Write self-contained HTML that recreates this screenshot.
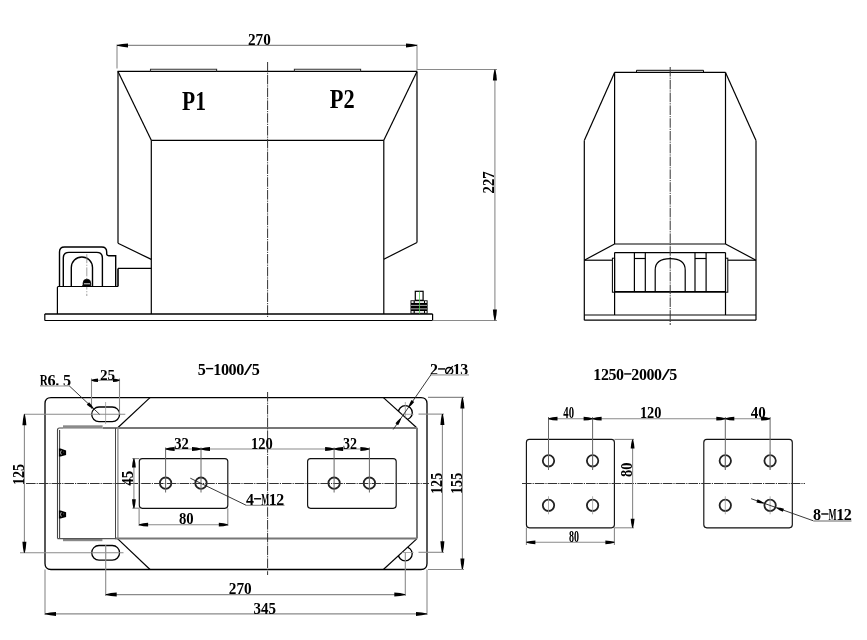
<!DOCTYPE html>
<html><head><meta charset="utf-8"><style>
html,body{margin:0;padding:0;background:#fff;width:867px;height:640px;overflow:hidden}
svg{display:block;will-change:transform}
.k{stroke:#000;stroke-width:1.2;fill:none}
.m{stroke:#333;stroke-width:1.1;fill:none}
.g{stroke:#8a8a8a;stroke-width:1.1;fill:none}
.d{stroke:#999;stroke-width:0.8;fill:none}
.c{stroke:#333;stroke-width:1;fill:none;stroke-dasharray:9.6 1.0 1.2 1.0}
.cl{stroke:#888;stroke-width:0.8;fill:none;stroke-dasharray:9 1.5 1.2 1.5}
.a{fill:#000;stroke:none}
.t{fill:#000;font-family:"Liberation Serif",serif}
</style></head><body>
<svg width="867" height="640" viewBox="0 0 867 640">
<line class="g" x1="117.00" y1="44.50" x2="117.00" y2="68.50"/>
<line class="g" x1="417.00" y1="44.50" x2="417.00" y2="70.50"/>
<line class="g" x1="117.00" y1="45.40" x2="417.00" y2="45.40"/>
<path class="a" d="M117.00,44.95 Q121.95,43.70 128.00,43.40 L128.00,47.40 Q121.95,47.10 117.00,45.85 Z"/>
<path class="a" d="M417.00,45.85 Q412.05,47.10 406.00,47.40 L406.00,43.40 Q412.05,43.70 417.00,44.95 Z"/>
<text class="t" x="248.00" y="44.80" font-size="16.52" textLength="22.80" lengthAdjust="spacingAndGlyphs" font-weight="bold">270</text>
<line class="k" x1="117.50" y1="71.40" x2="417.00" y2="71.40"/>
<path class="m" d="M150.5,71.4 V69.3 H216.6 V71.4"/>
<path class="m" d="M294.4,71.4 V69.3 H360.6 V71.4"/>
<line class="k" x1="118.00" y1="71.40" x2="118.00" y2="243.30"/>
<line class="k" x1="118.00" y1="243.30" x2="151.30" y2="259.40"/>
<line class="k" x1="417.00" y1="71.40" x2="417.00" y2="242.50"/>
<line class="k" x1="417.00" y1="242.50" x2="383.80" y2="259.20"/>
<line class="k" x1="118.00" y1="71.40" x2="151.30" y2="140.30"/>
<line class="k" x1="417.00" y1="71.40" x2="383.80" y2="140.30"/>
<line class="k" x1="151.30" y1="140.30" x2="383.80" y2="140.30"/>
<line class="k" x1="151.30" y1="140.30" x2="151.30" y2="313.90"/>
<line class="k" x1="383.80" y1="140.30" x2="383.80" y2="313.90"/>
<text class="t" x="182.00" y="109.80" font-size="27.12" textLength="23.90" lengthAdjust="spacingAndGlyphs" font-weight="bold">P1</text>
<text class="t" x="329.70" y="107.80" font-size="26.82" textLength="24.90" lengthAdjust="spacingAndGlyphs" font-weight="bold">P2</text>
<line class="c" x1="267.60" y1="62.00" x2="267.60" y2="317.00"/>
<line class="k" x1="44.80" y1="313.90" x2="432.60" y2="313.90" style="stroke-width:1.5;"/>
<line class="k" x1="44.80" y1="320.50" x2="432.60" y2="320.50"/>
<path class="k" d="M44.8,313.9 V320.5"/>
<path class="k" d="M432.6,313.9 V320.5"/>
<line class="k" x1="118.00" y1="268.40" x2="151.30" y2="268.40"/>
<line class="k" x1="118.00" y1="268.40" x2="118.00" y2="286.50" style="stroke-width:1.6;"/>
<path class="k" d="M57.4,313.9 V287.4 Q57.4,286.5 58.4,286.5 H118"/>
<path class="k" d="M59.5,286.5 V252 Q59.5,247 64.5,247 H101.7 Q106.7,247 106.7,252 V253.7 Q106.7,255.7 108.7,255.7 H115.7 V286.5" style="stroke-width:1.4;"/>
<path class="k" d="M63.3,286.5 V258 Q63.3,252.4 69,252.4 H96.8 Q102.4,252.4 102.4,258 V286.5" style="stroke-width:1.4;"/>
<path class="k" d="M71.3,286.5 V267.6 A10.6,10.6 0 0 1 92.5,267.6 V286.5" style="stroke-width:1.4;"/>
<line class="cl" x1="86.80" y1="254.20" x2="86.80" y2="296.00"/>
<path class="k" d="M83.1,286.5 V283 A3.8,3.8 0 0 1 90.7,283 V286.5 Z" style="stroke-width:0.8;fill:#000;"/>
<line class="k" x1="84.00" y1="283.80" x2="90.00" y2="283.80" style="stroke-width:0.9;stroke:#fff;"/>
<path class="k" d="M81.8,286.5 l1.3,-1.2 v1.2 z" style="stroke-width:0.6;fill:#000;"/>
<rect class="k" x="415.30" y="291.30" width="7.80" height="9.00" rx="0" style="stroke-width:1.2;"/>
<rect x="410.50" y="300.30" width="17.10" height="13.30" fill="#000"/>
<rect x="411.40" y="301.20" width="2.20" height="1.70" fill="#fff"/>
<rect x="414.80" y="301.20" width="9.20" height="1.70" fill="#fff"/>
<rect x="425.00" y="301.20" width="1.70" height="1.70" fill="#fff"/>
<rect x="411.40" y="311.10" width="2.20" height="1.70" fill="#fff"/>
<rect x="414.80" y="311.10" width="9.20" height="1.70" fill="#fff"/>
<rect x="425.00" y="311.10" width="1.70" height="1.70" fill="#fff"/>
<rect x="411.00" y="304.90" width="16.00" height="0.90" fill="#bbb"/>
<rect x="411.00" y="308.40" width="16.00" height="0.90" fill="#bbb"/>
<line class="k" x1="419.50" y1="291.50" x2="419.50" y2="313.60" style="stroke-width:0.8;stroke:#5c5;"/>
<line class="g" x1="432.60" y1="320.50" x2="497.00" y2="320.50"/>
<line class="g" x1="417.00" y1="69.50" x2="497.00" y2="69.50"/>
<line class="g" x1="494.90" y1="69.50" x2="494.90" y2="320.50"/>
<path class="a" d="M495.35,69.50 Q496.60,74.45 496.90,80.50 L492.90,80.50 Q493.20,74.45 494.45,69.50 Z"/>
<path class="a" d="M494.45,320.50 Q493.20,315.55 492.90,309.50 L496.90,309.50 Q496.60,315.55 495.35,320.50 Z"/>
<text class="t" transform="translate(494.40,193.40) rotate(-90)" x="0" y="0" font-size="17.12" textLength="22.10" lengthAdjust="spacingAndGlyphs" font-weight="bold">227</text>
<line class="k" x1="614.60" y1="72.40" x2="725.50" y2="72.40"/>
<path class="k" d="M636.5,72.4 V70.3 H703.5 V72.4" style="stroke-width:1.0;"/>
<line class="k" x1="614.60" y1="72.40" x2="584.30" y2="140.50"/>
<line class="k" x1="725.50" y1="72.40" x2="756.00" y2="140.50"/>
<line class="k" x1="584.30" y1="140.50" x2="584.30" y2="320.30"/>
<line class="k" x1="756.00" y1="140.50" x2="756.00" y2="320.30"/>
<line class="k" x1="614.60" y1="72.40" x2="614.60" y2="244.00"/>
<line class="k" x1="725.50" y1="72.40" x2="725.50" y2="244.00"/>
<line class="k" x1="614.60" y1="244.00" x2="725.50" y2="244.00"/>
<line class="k" x1="614.60" y1="244.00" x2="584.30" y2="260.20"/>
<line class="k" x1="725.50" y1="244.00" x2="756.00" y2="260.20"/>
<line class="k" x1="584.30" y1="260.20" x2="612.50" y2="260.20"/>
<line class="k" x1="727.80" y1="260.20" x2="756.00" y2="260.20"/>
<line class="k" x1="614.60" y1="252.60" x2="725.50" y2="252.60"/>
<line class="k" x1="614.60" y1="291.90" x2="725.50" y2="291.90" style="stroke-width:1.7;"/>
<line class="k" x1="614.60" y1="252.60" x2="614.60" y2="315.00"/>
<line class="k" x1="725.50" y1="252.60" x2="725.50" y2="315.00"/>
<rect class="k" x="612.40" y="258.20" width="2.20" height="34.00" rx="0" style="stroke-width:1;"/>
<rect class="k" x="725.50" y="258.20" width="2.30" height="34.00" rx="0" style="stroke-width:1;"/>
<line class="k" x1="634.40" y1="252.60" x2="634.40" y2="291.90"/>
<line class="k" x1="645.30" y1="252.60" x2="645.30" y2="291.90"/>
<line class="k" x1="634.40" y1="258.50" x2="645.30" y2="258.50"/>
<line class="k" x1="695.00" y1="252.60" x2="695.00" y2="291.90"/>
<line class="k" x1="706.10" y1="252.60" x2="706.10" y2="291.90"/>
<line class="k" x1="695.00" y1="258.50" x2="706.10" y2="258.50"/>
<path class="k" d="M655.2,291.9 V270 Q655.2,258.6 670.2,258.6 Q685.2,258.6 685.2,270 V291.9"/>
<line class="k" x1="584.30" y1="315.00" x2="756.00" y2="315.00" style="stroke-width:1.2;"/>
<line class="k" x1="584.30" y1="320.10" x2="756.00" y2="320.10"/>
<line class="c" x1="670.20" y1="67.00" x2="670.20" y2="325.00"/>
<path class="k" d="M51.0,397.6 H421.0 Q427.0,397.6 427.0,403.6 V563.5 Q427.0,569.5 421.0,569.5 H51.0 Q45.0,569.5 45.0,563.5 V403.6 Q45.0,397.6 51.0,397.6 Z" style="stroke-width:1.3;"/>
<line class="k" x1="150.00" y1="397.60" x2="117.50" y2="428.00"/>
<line class="k" x1="383.40" y1="397.60" x2="417.00" y2="428.00"/>
<line class="k" x1="117.50" y1="538.60" x2="150.00" y2="569.50"/>
<line class="k" x1="417.00" y1="538.60" x2="383.40" y2="569.50"/>
<line class="k" x1="102.60" y1="428.00" x2="417.00" y2="428.00" style="stroke-width:2;stroke:#777;"/>
<line class="k" x1="115.50" y1="538.60" x2="417.00" y2="538.60" style="stroke-width:2;stroke:#777;"/>
<line class="k" x1="115.50" y1="428.00" x2="115.50" y2="538.60" style="stroke-width:1;stroke:#444;"/>
<line class="k" x1="117.90" y1="428.00" x2="117.90" y2="538.60" style="stroke-width:1.3;stroke:#888;"/>
<line class="k" x1="417.00" y1="428.00" x2="417.00" y2="538.60" style="stroke-width:2;stroke:#777;"/>
<rect x="63.00" y="425.30" width="39.60" height="3.30" fill="#8a8a8a"/>
<rect x="63.00" y="538.90" width="39.40" height="2.30" fill="#8a8a8a"/>
<path class="k" d="M57.5,538.6 V430 Q57.5,428 59.5,428 H63" style="stroke-width:1.1;stroke:#444;"/>
<line class="k" x1="59.60" y1="430.00" x2="59.60" y2="538.60" style="stroke-width:1.1;stroke:#444;"/>
<line class="k" x1="57.50" y1="538.60" x2="116.00" y2="538.60" style="stroke-width:1.4;stroke:#555;"/>
<path d="M58.9,448.6 H60.6 L66.1,450.40000000000003 V455.1 L60.6,456.6 H58.9 Z" fill="#000"/>
<path d="M61.3,450.40000000000003 Q59.6,452.6 61.3,454.8" fill="none" stroke="#fff" stroke-width="0.7"/>
<circle cx="63.6" cy="452.0" r="0.6" fill="#555"/>
<path d="M58.9,510.4 H60.6 L66.1,512.1999999999999 V516.9 L60.6,518.4 H58.9 Z" fill="#000"/>
<path d="M61.3,512.1999999999999 Q59.6,514.4 61.3,516.6" fill="none" stroke="#fff" stroke-width="0.7"/>
<circle cx="63.6" cy="513.8" r="0.6" fill="#555"/>
<path class="k" d="M99,407.0 H112.3 A7.3,7.3 0 0 1 112.3,421.6 H99 A7.3,7.3 0 0 1 99,407.0 Z" style="stroke-width:1.3;"/>
<path class="k" d="M99,545.5 H112.3 A7.3,7.3 0 0 1 112.3,560.0999999999999 H99 A7.3,7.3 0 0 1 99,545.5 Z" style="stroke-width:1.3;"/>
<defs><clipPath id="c1"><polygon points="372.35,387.6 445,387.6 445,440 430.3,440"/></clipPath><clipPath id="c2"><polygon points="430.3,526.6 445,526.6 445,580 371.6,580"/></clipPath></defs>
<g clip-path="url(#c1)">
<circle class="k" cx="405.30" cy="412.70" r="7.0" style="stroke-width:1.3;"/>
<line class="d" x1="405.30" y1="402.00" x2="405.30" y2="425.00"/>
<line class="d" x1="396.00" y1="414.30" x2="413.60" y2="414.30"/>
</g>
<g clip-path="url(#c2)">
<circle class="k" cx="405.20" cy="553.80" r="7.0" style="stroke-width:1.3;"/>
<line class="d" x1="396.00" y1="552.50" x2="413.60" y2="552.50"/>
</g>
<rect class="k" x="139.30" y="458.60" width="88.50" height="49.70" rx="3" style="stroke-width:1.15;stroke:#111;"/>
<rect class="k" x="307.60" y="458.60" width="88.60" height="49.70" rx="3" style="stroke-width:1.15;stroke:#111;"/>
<circle class="k" cx="165.60" cy="483.20" r="5.7" style="stroke-width:1.8;stroke:#222;"/>
<circle class="k" cx="201.00" cy="483.20" r="5.7" style="stroke-width:1.8;stroke:#222;"/>
<circle class="k" cx="334.10" cy="483.20" r="5.7" style="stroke-width:1.8;stroke:#222;"/>
<circle class="k" cx="369.40" cy="483.20" r="5.7" style="stroke-width:1.8;stroke:#222;"/>
<line class="c" x1="26.00" y1="483.50" x2="429.00" y2="483.50"/>
<line class="c" x1="267.60" y1="392.00" x2="267.60" y2="575.00"/>
<line class="d" x1="105.60" y1="402.00" x2="105.60" y2="424.00"/>
<line class="g" x1="24.00" y1="414.30" x2="125.30" y2="414.30"/>
<line class="g" x1="20.00" y1="552.70" x2="123.50" y2="552.70"/>
<line class="g" x1="105.70" y1="545.00" x2="105.70" y2="596.00"/>
<line class="d" x1="105.60" y1="548.00" x2="105.60" y2="558.00"/>
<line class="g" x1="405.30" y1="552.50" x2="405.30" y2="596.00"/>
<line class="g" x1="418.50" y1="552.30" x2="444.00" y2="552.30"/>
<line class="g" x1="24.40" y1="414.30" x2="24.40" y2="552.70"/>
<path class="a" d="M24.85,414.30 Q26.10,419.25 26.40,425.30 L22.40,425.30 Q22.70,419.25 23.95,414.30 Z"/>
<path class="a" d="M23.95,552.70 Q22.70,547.75 22.40,541.70 L26.40,541.70 Q26.10,547.75 24.85,552.70 Z"/>
<text class="t" transform="translate(24.20,485.10) rotate(-90)" x="0" y="0" font-size="17.42" textLength="21.10" lengthAdjust="spacingAndGlyphs" font-weight="bold">125</text>
<line class="g" x1="91.50" y1="378.50" x2="91.50" y2="409.00"/>
<line class="g" x1="119.50" y1="378.50" x2="119.50" y2="414.00"/>
<line class="g" x1="91.50" y1="380.30" x2="119.50" y2="380.30"/>
<path class="a" d="M91.50,379.85 Q94.42,378.77 98.00,378.50 L98.00,382.10 Q94.42,381.83 91.50,380.75 Z"/>
<path class="a" d="M119.50,380.75 Q116.58,381.83 113.00,382.10 L113.00,378.50 Q116.58,378.77 119.50,379.85 Z"/>
<text class="t" x="100.00" y="379.60" font-size="15.61" textLength="15.20" lengthAdjust="spacingAndGlyphs" font-weight="bold">25</text>
<text class="t" x="39.71" y="385.60" font-size="17.12" textLength="8.14" lengthAdjust="spacingAndGlyphs" font-weight="bold">R</text>
<text class="t" x="47.46" y="385.60" font-size="17.12" textLength="8.14" lengthAdjust="spacingAndGlyphs" font-weight="bold">6</text>
<rect x="56.20" y="383.40" width="2.20" height="2.20" fill="#000"/>
<text class="t" x="62.96" y="385.60" font-size="17.12" textLength="8.14" lengthAdjust="spacingAndGlyphs" font-weight="bold">5</text>
<line class="g" x1="40.00" y1="386.00" x2="69.50" y2="386.00" style="stroke-width:1.6;stroke:#bbb;"/>
<line class="k" x1="69.20" y1="385.80" x2="99.60" y2="414.30" style="stroke-width:0.9;stroke:#222;"/>
<path class="a" d="M93.09,408.83 Q89.95,407.26 86.75,404.63 L89.07,402.14 Q91.92,405.14 93.71,408.17 Z"/>
<text class="t" x="197.81" y="374.50" font-size="17.12" textLength="8.09" lengthAdjust="spacingAndGlyphs" font-weight="bold">5</text>
<rect x="206.00" y="367.92" width="7.20" height="1.40" fill="#000"/>
<text class="t" x="213.21" y="374.50" font-size="17.12" textLength="8.09" lengthAdjust="spacingAndGlyphs" font-weight="bold">1</text>
<text class="t" x="220.91" y="374.50" font-size="17.12" textLength="8.09" lengthAdjust="spacingAndGlyphs" font-weight="bold">0</text>
<text class="t" x="228.61" y="374.50" font-size="17.12" textLength="8.09" lengthAdjust="spacingAndGlyphs" font-weight="bold">0</text>
<text class="t" x="236.31" y="374.50" font-size="17.12" textLength="8.09" lengthAdjust="spacingAndGlyphs" font-weight="bold">0</text>
<text class="t" x="244.01" y="374.50" font-size="17.12" textLength="8.09" lengthAdjust="spacingAndGlyphs" font-weight="bold">/</text>
<text class="t" x="251.71" y="374.50" font-size="17.12" textLength="8.09" lengthAdjust="spacingAndGlyphs" font-weight="bold">5</text>
<text class="t" x="430.01" y="374.70" font-size="16.82" textLength="7.96" lengthAdjust="spacingAndGlyphs" font-weight="bold">2</text>
<rect x="438.08" y="368.23" width="7.08" height="1.40" fill="#000"/>
<circle cx="449.15" cy="370.93" r="3.55" fill="none" stroke="#000" stroke-width="1.5"/>
<line x1="446.31" y1="374.66" x2="452.70" y2="366.13" stroke="#000" stroke-width="1.3"/>
<text class="t" x="452.75" y="374.70" font-size="16.82" textLength="7.96" lengthAdjust="spacingAndGlyphs" font-weight="bold">1</text>
<text class="t" x="460.33" y="374.70" font-size="16.82" textLength="7.96" lengthAdjust="spacingAndGlyphs" font-weight="bold">3</text>
<line class="g" x1="430.00" y1="374.90" x2="469.00" y2="374.90" style="stroke-width:1.6;stroke:#bbb;"/>
<line class="k" x1="431.20" y1="374.40" x2="393.20" y2="429.50" style="stroke-width:0.9;stroke:#222;"/>
<path class="a" d="M408.51,406.49 Q409.55,403.38 411.54,400.07 L414.17,401.89 Q411.79,404.92 409.25,407.00 Z"/>
<path class="a" d="M401.13,418.77 Q400.09,421.88 398.10,425.18 L395.46,423.37 Q397.85,420.33 400.38,418.26 Z"/>
<line class="g" x1="428.00" y1="397.40" x2="464.00" y2="397.40"/>
<line class="g" x1="462.40" y1="397.40" x2="462.40" y2="569.50"/>
<path class="a" d="M462.85,397.40 Q464.10,402.35 464.40,408.40 L460.40,408.40 Q460.70,402.35 461.95,397.40 Z"/>
<path class="a" d="M461.95,569.50 Q460.70,564.55 460.40,558.50 L464.40,558.50 Q464.10,564.55 462.85,569.50 Z"/>
<line class="g" x1="418.50" y1="414.10" x2="444.00" y2="414.10"/>
<line class="g" x1="442.40" y1="414.10" x2="442.40" y2="552.30"/>
<path class="a" d="M442.85,414.10 Q444.10,419.05 444.40,425.10 L440.40,425.10 Q440.70,419.05 441.95,414.10 Z"/>
<path class="a" d="M441.95,552.30 Q440.70,547.35 440.40,541.30 L444.40,541.30 Q444.10,547.35 442.85,552.30 Z"/>
<line class="g" x1="428.00" y1="569.50" x2="464.00" y2="569.50"/>
<text class="t" transform="translate(441.90,494.00) rotate(-90)" x="0" y="0" font-size="17.58" textLength="21.20" lengthAdjust="spacingAndGlyphs" font-weight="bold">125</text>
<text class="t" transform="translate(462.00,494.00) rotate(-90)" x="0" y="0" font-size="17.42" textLength="21.20" lengthAdjust="spacingAndGlyphs" font-weight="bold">155</text>
<line class="g" x1="165.60" y1="447.50" x2="165.60" y2="492.50" style="stroke-width:1.0;stroke:#666;"/>
<line class="g" x1="201.00" y1="447.50" x2="201.00" y2="492.50" style="stroke-width:1.0;stroke:#666;"/>
<line class="g" x1="334.10" y1="447.50" x2="334.10" y2="492.50" style="stroke-width:1.0;stroke:#666;"/>
<line class="g" x1="369.40" y1="447.50" x2="369.40" y2="492.50" style="stroke-width:1.0;stroke:#666;"/>
<line class="g" x1="165.60" y1="449.00" x2="369.40" y2="449.00"/>
<path class="a" d="M165.60,448.55 Q169.65,447.38 174.60,447.10 L174.60,450.90 Q169.65,450.62 165.60,449.45 Z"/>
<path class="a" d="M201.00,449.45 Q196.95,450.62 192.00,450.90 L192.00,447.10 Q196.95,447.38 201.00,448.55 Z"/>
<path class="a" d="M201.00,448.55 Q205.05,447.38 210.00,447.10 L210.00,450.90 Q205.05,450.62 201.00,449.45 Z"/>
<path class="a" d="M334.10,449.45 Q330.05,450.62 325.10,450.90 L325.10,447.10 Q330.05,447.38 334.10,448.55 Z"/>
<path class="a" d="M334.10,448.55 Q338.15,447.38 343.10,447.10 L343.10,450.90 Q338.15,450.62 334.10,449.45 Z"/>
<path class="a" d="M369.40,449.45 Q365.35,450.62 360.40,450.90 L360.40,447.10 Q365.35,447.38 369.40,448.55 Z"/>
<text class="t" x="174.30" y="448.90" font-size="16.67" textLength="14.60" lengthAdjust="spacingAndGlyphs" font-weight="bold">32</text>
<text class="t" x="251.00" y="448.90" font-size="16.52" textLength="21.80" lengthAdjust="spacingAndGlyphs" font-weight="bold">120</text>
<text class="t" x="342.90" y="448.80" font-size="16.52" textLength="14.00" lengthAdjust="spacingAndGlyphs" font-weight="bold">32</text>
<line class="g" x1="132.30" y1="458.60" x2="139.30" y2="458.60"/>
<line class="g" x1="132.30" y1="508.20" x2="139.30" y2="508.20"/>
<line class="g" x1="133.90" y1="458.60" x2="133.90" y2="508.20"/>
<path class="a" d="M134.35,458.60 Q135.52,462.65 135.80,467.60 L132.00,467.60 Q132.28,462.65 133.45,458.60 Z"/>
<path class="a" d="M133.45,508.20 Q132.28,504.15 132.00,499.20 L135.80,499.20 Q135.52,504.15 134.35,508.20 Z"/>
<text class="t" transform="translate(133.40,485.70) rotate(-90)" x="0" y="0" font-size="17.12" textLength="15.00" lengthAdjust="spacingAndGlyphs" font-weight="bold">45</text>
<line class="g" x1="139.10" y1="508.20" x2="139.10" y2="526.00"/>
<line class="g" x1="227.80" y1="508.20" x2="227.80" y2="526.00"/>
<line class="g" x1="139.10" y1="524.70" x2="227.80" y2="524.70"/>
<path class="a" d="M139.10,524.25 Q143.15,523.09 148.10,522.80 L148.10,526.60 Q143.15,526.32 139.10,525.15 Z"/>
<path class="a" d="M227.80,525.15 Q223.75,526.32 218.80,526.60 L218.80,522.80 Q223.75,523.09 227.80,524.25 Z"/>
<text class="t" x="178.90" y="524.00" font-size="16.67" textLength="14.70" lengthAdjust="spacingAndGlyphs" font-weight="bold">80</text>
<line class="k" x1="190.30" y1="478.20" x2="246.00" y2="505.20" style="stroke-width:0.9;stroke:#222;"/>
<line class="g" x1="246.00" y1="505.40" x2="284.50" y2="505.40" style="stroke-width:1.4;stroke:#999;"/>
<text class="t" x="246.01" y="504.70" font-size="17.27" textLength="7.96" lengthAdjust="spacingAndGlyphs" font-weight="bold">4</text>
<rect x="254.08" y="498.07" width="7.08" height="1.40" fill="#000"/>
<text class="t" x="261.17" y="504.70" font-size="17.27" textLength="7.96" lengthAdjust="spacingAndGlyphs" font-weight="bold">M</text>
<text class="t" x="268.75" y="504.70" font-size="17.27" textLength="7.96" lengthAdjust="spacingAndGlyphs" font-weight="bold">1</text>
<text class="t" x="276.33" y="504.70" font-size="17.27" textLength="7.96" lengthAdjust="spacingAndGlyphs" font-weight="bold">2</text>
<line class="g" x1="105.70" y1="594.60" x2="405.30" y2="594.60"/>
<path class="a" d="M105.70,594.15 Q110.65,592.90 116.70,592.60 L116.70,596.60 Q110.65,596.30 105.70,595.05 Z"/>
<path class="a" d="M405.30,595.05 Q400.35,596.30 394.30,596.60 L394.30,592.60 Q400.35,592.90 405.30,594.15 Z"/>
<line class="g" x1="45.00" y1="569.50" x2="45.00" y2="615.00"/>
<line class="g" x1="427.00" y1="569.50" x2="427.00" y2="615.00"/>
<line class="g" x1="45.00" y1="613.90" x2="427.00" y2="613.90"/>
<path class="a" d="M45.00,613.45 Q49.95,612.20 56.00,611.90 L56.00,615.90 Q49.95,615.60 45.00,614.35 Z"/>
<path class="a" d="M427.00,614.35 Q422.05,615.60 416.00,615.90 L416.00,611.90 Q422.05,612.20 427.00,613.45 Z"/>
<text class="t" x="228.80" y="593.90" font-size="17.73" textLength="22.90" lengthAdjust="spacingAndGlyphs" font-weight="bold">270</text>
<text class="t" x="253.60" y="613.90" font-size="17.42" textLength="22.50" lengthAdjust="spacingAndGlyphs" font-weight="bold">345</text>
<text class="t" x="593.31" y="379.70" font-size="16.82" textLength="7.98" lengthAdjust="spacingAndGlyphs" font-weight="bold">1</text>
<text class="t" x="600.91" y="379.70" font-size="16.82" textLength="7.98" lengthAdjust="spacingAndGlyphs" font-weight="bold">2</text>
<text class="t" x="608.51" y="379.70" font-size="16.82" textLength="7.98" lengthAdjust="spacingAndGlyphs" font-weight="bold">5</text>
<text class="t" x="616.11" y="379.70" font-size="16.82" textLength="7.98" lengthAdjust="spacingAndGlyphs" font-weight="bold">0</text>
<rect x="624.20" y="373.23" width="7.10" height="1.40" fill="#000"/>
<text class="t" x="631.31" y="379.70" font-size="16.82" textLength="7.98" lengthAdjust="spacingAndGlyphs" font-weight="bold">2</text>
<text class="t" x="638.91" y="379.70" font-size="16.82" textLength="7.98" lengthAdjust="spacingAndGlyphs" font-weight="bold">0</text>
<text class="t" x="646.51" y="379.70" font-size="16.82" textLength="7.98" lengthAdjust="spacingAndGlyphs" font-weight="bold">0</text>
<text class="t" x="654.11" y="379.70" font-size="16.82" textLength="7.98" lengthAdjust="spacingAndGlyphs" font-weight="bold">0</text>
<text class="t" x="661.71" y="379.70" font-size="16.82" textLength="7.98" lengthAdjust="spacingAndGlyphs" font-weight="bold">/</text>
<text class="t" x="669.31" y="379.70" font-size="16.82" textLength="7.98" lengthAdjust="spacingAndGlyphs" font-weight="bold">5</text>
<rect class="k" x="526.40" y="439.40" width="88.00" height="88.40" rx="3" style="stroke-width:1.15;stroke:#111;"/>
<rect class="k" x="703.80" y="439.40" width="88.50" height="88.40" rx="3" style="stroke-width:1.15;stroke:#111;"/>
<circle class="k" cx="548.50" cy="460.80" r="5.7" style="stroke-width:1.8;stroke:#222;"/>
<circle class="k" cx="548.50" cy="505.30" r="5.7" style="stroke-width:1.8;stroke:#222;"/>
<circle class="k" cx="592.60" cy="460.80" r="5.7" style="stroke-width:1.8;stroke:#222;"/>
<circle class="k" cx="592.60" cy="505.30" r="5.7" style="stroke-width:1.8;stroke:#222;"/>
<circle class="k" cx="725.30" cy="460.80" r="5.7" style="stroke-width:1.8;stroke:#222;"/>
<circle class="k" cx="725.30" cy="505.30" r="5.7" style="stroke-width:1.8;stroke:#222;"/>
<circle class="k" cx="770.10" cy="460.80" r="5.7" style="stroke-width:1.8;stroke:#222;"/>
<circle class="k" cx="770.10" cy="505.30" r="5.7" style="stroke-width:1.8;stroke:#222;"/>
<line class="c" x1="522.00" y1="483.50" x2="805.00" y2="483.50"/>
<line class="d" x1="548.50" y1="451.80" x2="548.50" y2="469.80"/>
<line class="d" x1="548.50" y1="496.30" x2="548.50" y2="514.30"/>
<line class="d" x1="592.60" y1="451.80" x2="592.60" y2="469.80"/>
<line class="d" x1="592.60" y1="496.30" x2="592.60" y2="514.30"/>
<line class="d" x1="725.30" y1="451.80" x2="725.30" y2="469.80"/>
<line class="d" x1="725.30" y1="496.30" x2="725.30" y2="514.30"/>
<line class="d" x1="770.10" y1="451.80" x2="770.10" y2="469.80"/>
<line class="d" x1="770.10" y1="496.30" x2="770.10" y2="514.30"/>
<line class="g" x1="548.50" y1="417.00" x2="548.50" y2="470.00" style="stroke-width:1.0;stroke:#666;"/>
<line class="g" x1="592.60" y1="417.00" x2="592.60" y2="470.00" style="stroke-width:1.0;stroke:#666;"/>
<line class="g" x1="725.30" y1="417.00" x2="725.30" y2="470.00" style="stroke-width:1.0;stroke:#666;"/>
<line class="g" x1="770.10" y1="417.00" x2="770.10" y2="470.00" style="stroke-width:1.0;stroke:#666;"/>
<line class="g" x1="548.50" y1="418.70" x2="770.10" y2="418.70"/>
<path class="a" d="M548.50,418.25 Q552.55,417.08 557.50,416.80 L557.50,420.60 Q552.55,420.31 548.50,419.15 Z"/>
<path class="a" d="M592.60,419.15 Q588.55,420.31 583.60,420.60 L583.60,416.80 Q588.55,417.08 592.60,418.25 Z"/>
<path class="a" d="M592.60,418.25 Q596.65,417.08 601.60,416.80 L601.60,420.60 Q596.65,420.31 592.60,419.15 Z"/>
<path class="a" d="M725.30,419.15 Q721.25,420.31 716.30,420.60 L716.30,416.80 Q721.25,417.08 725.30,418.25 Z"/>
<path class="a" d="M725.30,418.25 Q729.35,417.08 734.30,416.80 L734.30,420.60 Q729.35,420.31 725.30,419.15 Z"/>
<path class="a" d="M770.10,419.15 Q766.05,420.31 761.10,420.60 L761.10,416.80 Q766.05,417.08 770.10,418.25 Z"/>
<text class="t" x="563.30" y="417.90" font-size="16.52" textLength="10.70" lengthAdjust="spacingAndGlyphs" font-weight="bold">40</text>
<text class="t" x="639.90" y="417.90" font-size="16.67" textLength="21.60" lengthAdjust="spacingAndGlyphs" font-weight="bold">120</text>
<text class="t" x="750.80" y="418.20" font-size="16.97" textLength="15.00" lengthAdjust="spacingAndGlyphs" font-weight="bold">40</text>
<line class="g" x1="614.40" y1="439.40" x2="634.00" y2="439.40"/>
<line class="g" x1="614.40" y1="527.80" x2="634.00" y2="527.80"/>
<line class="g" x1="632.60" y1="439.40" x2="632.60" y2="527.80"/>
<path class="a" d="M633.05,439.40 Q634.22,443.45 634.50,448.40 L630.70,448.40 Q630.99,443.45 632.15,439.40 Z"/>
<path class="a" d="M632.15,527.80 Q630.99,523.75 630.70,518.80 L634.50,518.80 Q634.22,523.75 633.05,527.80 Z"/>
<text class="t" transform="translate(631.50,477.00) rotate(-90)" x="0" y="0" font-size="16.82" textLength="14.40" lengthAdjust="spacingAndGlyphs" font-weight="bold">80</text>
<line class="g" x1="526.40" y1="527.80" x2="526.40" y2="545.00"/>
<line class="g" x1="614.40" y1="527.80" x2="614.40" y2="545.00"/>
<line class="g" x1="526.40" y1="542.30" x2="614.40" y2="542.30"/>
<path class="a" d="M526.40,541.85 Q530.45,540.68 535.40,540.40 L535.40,544.20 Q530.45,543.91 526.40,542.75 Z"/>
<path class="a" d="M614.40,542.75 Q610.35,543.91 605.40,544.20 L605.40,540.40 Q610.35,540.68 614.40,541.85 Z"/>
<text class="t" x="569.00" y="541.60" font-size="17.27" textLength="10.00" lengthAdjust="spacingAndGlyphs" font-weight="bold">80</text>
<line class="k" x1="751.10" y1="498.70" x2="813.40" y2="520.80" style="stroke-width:0.9;stroke:#222;"/>
<path class="a" d="M763.45,503.62 Q760.15,503.51 756.43,502.46 L757.57,499.25 Q761.12,500.78 763.75,502.78 Z"/>
<path class="a" d="M776.95,507.48 Q780.25,507.59 783.97,508.64 L782.83,511.85 Q779.28,510.32 776.65,508.32 Z"/>
<line class="g" x1="813.40" y1="521.00" x2="851.50" y2="521.00" style="stroke-width:1.4;stroke:#999;"/>
<text class="t" x="813.11" y="519.60" font-size="16.36" textLength="8.06" lengthAdjust="spacingAndGlyphs" font-weight="bold">8</text>
<rect x="821.28" y="513.28" width="7.18" height="1.40" fill="#000"/>
<text class="t" x="828.47" y="519.60" font-size="16.36" textLength="8.06" lengthAdjust="spacingAndGlyphs" font-weight="bold">M</text>
<text class="t" x="836.15" y="519.60" font-size="16.36" textLength="8.06" lengthAdjust="spacingAndGlyphs" font-weight="bold">1</text>
<text class="t" x="843.83" y="519.60" font-size="16.36" textLength="8.06" lengthAdjust="spacingAndGlyphs" font-weight="bold">2</text>
</svg>
</body></html>
